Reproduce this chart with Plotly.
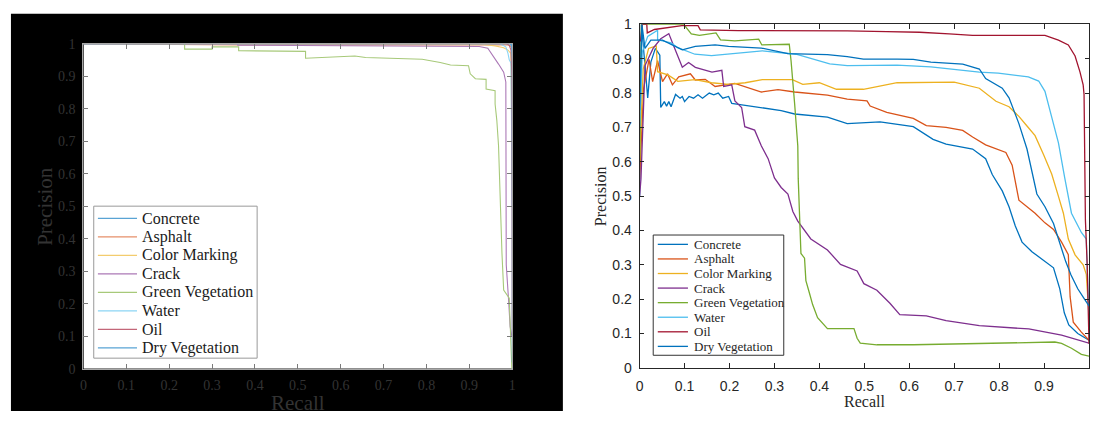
import plotly.graph_objects as go

W, H = 1093, 421

series_names = ["Concrete", "Asphalt", "Color Marking", "Crack", "Green Vegetation",
                "Water", "Oil", "Dry Vegetation"]
colors_right = ["#0072BD", "#D95319", "#EDB120", "#7E2F8E", "#77AC30", "#4DBEEE", "#A2142F", "#0072BD"]
colors_left = ["#59A3D4", "#E68F6A", "#F3CC6E", "#AB78B6", "#A7C979", "#8BD5F4", "#C36678", "#59A3D4"]
tick_vals = [0, 0.1, 0.2, 0.3, 0.4, 0.5, 0.6, 0.7, 0.8, 0.9, 1]
tick_text = ["0", "0.1", "0.2", "0.3", "0.4", "0.5", "0.6", "0.7", "0.8", "0.9", "1"]

# ---------------- left panel (recall, precision) ----------------
L_concrete_r = [0, 0.995, 0.999, 1.0]
L_concrete_p = [1.0, 1.0, 0.985, 0.64]
L_asphalt_r = [0, 0.36, 0.99, 0.998, 1.0]
L_asphalt_p = [1.0, 0.996, 0.996, 0.99, 0.6]
L_color_r = [0, 0.93, 0.96, 0.98, 0.99, 0.997, 1.0]
L_color_p = [1.0, 0.998, 0.993, 0.987, 0.98, 0.97, 0.55]
L_crack_r = [0, 0.36, 0.36, 0.898, 0.923, 0.943, 0.956, 0.968, 0.980, 0.985, 0.986, 0.989, 0.992, 0.995, 0.999]
L_crack_p = [1.0, 1.0, 0.995, 0.993, 0.991, 0.986, 0.962, 0.937, 0.912, 0.882, 0.32, 0.27, 0.20, 0.13, 0.10]
L_green_r = [0, 0.236, 0.236, 0.300, 0.300, 0.362, 0.362, 0.451, 0.518, 0.518, 0.633, 0.658, 0.790,
             0.832, 0.856, 0.898, 0.902, 0.914, 0.939, 0.939, 0.960, 0.960, 0.964, 0.968, 0.972,
             0.976, 0.980, 0.993, 0.999]
L_green_p = [1.0, 1.0, 0.983, 0.983, 0.990, 0.990, 0.978, 0.976, 0.976, 0.955, 0.962, 0.957, 0.952,
             0.942, 0.934, 0.932, 0.907, 0.892, 0.890, 0.860, 0.855, 0.814, 0.764, 0.686, 0.483,
             0.355, 0.242, 0.217, 0.0]
L_water_r = [0, 0.97, 0.985, 0.99, 0.993, 0.997, 1.0]
L_water_p = [1.0, 1.0, 0.99, 0.97, 0.95, 0.94, 0.5]
L_oil_r = [0, 0.985, 0.993, 0.997, 0.999, 0.999, 1.0]
L_oil_p = [1.0, 1.0, 0.995, 0.98, 0.9, 0.16, 0.1]
L_dry_r = [0, 0.998, 1.0, 1.0]
L_dry_p = [1.0, 1.0, 0.95, 0.02]

# ---------------- right panel (recall, precision) ----------------
R_concrete_r = [0, 0.004, 0.012, 0.018, 0.025, 0.035, 0.045, 0.047, 0.055, 0.06, 0.065, 0.07, 0.08,
                0.09, 0.095, 0.10, 0.11, 0.12, 0.13, 0.14, 0.155, 0.165, 0.175, 0.185, 0.198, 0.205,
                0.220, 0.271, 0.315, 0.345, 0.418, 0.462, 0.535, 0.609, 0.653, 0.682, 0.741, 0.770,
                0.785, 0.807, 0.822, 0.836, 0.851, 0.873, 0.902, 0.921, 0.935, 0.945, 0.955, 0.975, 1.0]
R_concrete_p = [0.5, 1.0, 0.88, 0.786, 0.89, 0.93, 0.91, 0.758, 0.775, 0.762, 0.775, 0.76, 0.796,
                0.785, 0.79, 0.775, 0.79, 0.785, 0.795, 0.785, 0.80, 0.795, 0.80, 0.785, 0.79, 0.77,
                0.767, 0.758, 0.749, 0.739, 0.730, 0.711, 0.716, 0.702, 0.665, 0.651, 0.637, 0.609,
                0.562, 0.515, 0.469, 0.413, 0.366, 0.338, 0.310, 0.291, 0.23, 0.16, 0.125, 0.10, 0.08]
R_asphalt_r = [0, 0.009, 0.021, 0.029, 0.040, 0.051, 0.062, 0.073, 0.087, 0.113, 0.124, 0.146, 0.168,
               0.212, 0.271, 0.308, 0.345, 0.418, 0.462, 0.506, 0.513, 0.550, 0.609, 0.638, 0.682,
               0.719, 0.741, 0.770, 0.815, 0.829, 0.844, 0.862, 0.880, 0.902, 0.921, 0.939, 0.954,
               0.958, 0.965, 0.983, 1.0]
R_asphalt_p = [0.55, 0.814, 0.898, 0.833, 0.894, 0.833, 0.856, 0.824, 0.847, 0.856, 0.838, 0.840, 0.819,
               0.828, 0.803, 0.810, 0.803, 0.794, 0.782, 0.777, 0.762, 0.744, 0.726, 0.705, 0.700,
               0.691, 0.672, 0.649, 0.627, 0.590, 0.488, 0.469, 0.450, 0.422, 0.403, 0.366, 0.329,
               0.207, 0.133, 0.104, 0.08]
R_color_r = [0, 0.008, 0.02, 0.037, 0.040, 0.063, 0.085, 0.123, 0.160, 0.198, 0.235, 0.273, 0.310,
             0.340, 0.363, 0.400, 0.438, 0.498, 0.573, 0.648, 0.700, 0.756, 0.793, 0.822, 0.844,
             0.862, 0.880, 0.899, 0.917, 0.932, 0.943, 0.954, 0.969, 0.987, 0.994, 1.0]
R_color_p = [0.6, 0.87, 0.93, 0.937, 0.862, 0.853, 0.834, 0.839, 0.830, 0.825, 0.830, 0.839, 0.839,
             0.839, 0.825, 0.830, 0.811, 0.811, 0.830, 0.830, 0.832, 0.814, 0.776, 0.760, 0.732,
             0.704, 0.676, 0.620, 0.564, 0.499, 0.450, 0.375, 0.329, 0.300, 0.272, 0.15]
R_crack_r = [0, 0.003, 0.012, 0.03, 0.047, 0.065, 0.075, 0.09, 0.095, 0.109, 0.124, 0.161, 0.183,
             0.187, 0.205, 0.212, 0.227, 0.234, 0.256, 0.271, 0.286, 0.300, 0.315, 0.330, 0.341,
             0.352, 0.381, 0.418, 0.447, 0.484, 0.499, 0.528, 0.557, 0.579, 0.638, 0.682, 0.756,
             0.866, 0.939, 1.0]
R_crack_p = [0.5, 0.55, 0.88, 0.93, 0.958, 0.973, 0.94, 0.89, 0.875, 0.889, 0.875, 0.861, 0.866,
             0.819, 0.824, 0.777, 0.758, 0.702, 0.692, 0.646, 0.609, 0.553, 0.525, 0.506, 0.455,
             0.427, 0.375, 0.343, 0.301, 0.282, 0.245, 0.226, 0.188, 0.155, 0.151, 0.137, 0.123,
             0.113, 0.095, 0.072]
R_green_r = [0, 0.004, 0.098, 0.115, 0.133, 0.17, 0.18, 0.212, 0.265, 0.272, 0.333, 0.337, 0.345,
             0.352, 0.353, 0.356, 0.359, 0.367, 0.370, 0.378, 0.385, 0.396, 0.418, 0.477, 0.484,
             0.491, 0.528, 0.609, 0.756, 0.924, 0.939, 0.961, 0.983, 1.0]
R_green_p = [0.6, 1.0, 1.0, 0.972, 0.968, 0.975, 0.955, 0.952, 0.957, 0.94, 0.942, 0.894, 0.768,
             0.646, 0.55, 0.40, 0.333, 0.319, 0.254, 0.217, 0.184, 0.146, 0.114, 0.114, 0.086,
             0.072, 0.067, 0.067, 0.071, 0.075, 0.071, 0.057, 0.039, 0.034]
R_water_r = [0, 0.006, 0.018, 0.040, 0.040, 0.070, 0.085, 0.123, 0.160, 0.198, 0.273, 0.348, 0.423,
             0.462, 0.573, 0.648, 0.756, 0.798, 0.865, 0.888, 0.902, 0.917, 0.932, 0.946, 0.961,
             0.983, 0.994, 0.997, 1.0]
R_water_p = [0.7, 0.92, 0.965, 0.983, 0.955, 0.946, 0.932, 0.913, 0.909, 0.913, 0.923, 0.913, 0.885,
             0.880, 0.881, 0.876, 0.861, 0.858, 0.847, 0.835, 0.805, 0.730, 0.655, 0.553, 0.450,
             0.394, 0.375, 0.25, 0.15]
R_oil_r = [0.002, 0.006, 0.016, 0.017, 0.033, 0.06, 0.094, 0.13, 0.135, 0.22, 0.30, 0.462, 0.55,
           0.623, 0.689, 0.741, 0.902, 0.932, 0.954, 0.969, 0.980, 0.987, 0.989, 0.991, 0.992,
           0.996, 1.0]
R_oil_p = [0.95, 1.0, 1.0, 0.975, 0.985, 0.99, 0.996, 0.996, 0.984, 0.982, 0.982, 0.981, 0.979,
           0.977, 0.972, 0.968, 0.968, 0.954, 0.940, 0.908, 0.861, 0.824, 0.796, 0.60, 0.431,
           0.3, 0.07]
R_dry_r = [0, 0.005, 0.012, 0.025, 0.051, 0.08, 0.095, 0.124, 0.168, 0.198, 0.271, 0.33, 0.418,
           0.462, 0.498, 0.573, 0.609, 0.648, 0.719, 0.756, 0.770, 0.807, 0.822, 0.844, 0.862,
           0.884, 0.902, 0.921, 0.935, 0.948, 0.96, 0.975, 0.99, 1.0]
R_dry_p = [0.75, 1.0, 0.93, 0.954, 0.954, 0.937, 0.926, 0.936, 0.940, 0.936, 0.931, 0.915, 0.912,
           0.906, 0.899, 0.899, 0.898, 0.890, 0.884, 0.870, 0.842, 0.814, 0.786, 0.711, 0.637,
           0.506, 0.469, 0.42, 0.36, 0.31, 0.27, 0.23, 0.20, 0.18]

left_data = [(L_concrete_r, L_concrete_p), (L_asphalt_r, L_asphalt_p), (L_color_r, L_color_p),
             (L_crack_r, L_crack_p), (L_green_r, L_green_p), (L_water_r, L_water_p),
             (L_oil_r, L_oil_p), (L_dry_r, L_dry_p)]
right_data = [(R_concrete_r, R_concrete_p), (R_asphalt_r, R_asphalt_p), (R_color_r, R_color_p),
              (R_crack_r, R_crack_p), (R_green_r, R_green_p), (R_water_r, R_water_p),
              (R_oil_r, R_oil_p), (R_dry_r, R_dry_p)]

fig = go.Figure()
for (r, p), c, n in zip(left_data, colors_left, series_names):
    fig.add_trace(go.Scatter(x=r, y=p, mode="lines", name=n, line=dict(color=c, width=1.1),
                             xaxis="x", yaxis="y", showlegend=False))
for (r, p), c, n in zip(right_data, colors_right, series_names):
    fig.add_trace(go.Scatter(x=r, y=p, mode="lines", name=n, line=dict(color=c, width=1.3),
                             xaxis="x2", yaxis="y2", showlegend=False))


def fx(px):
    return px / W


def fy(py):
    return 1 - py / H


serif = "Liberation Serif"
sans = "Liberation Sans"

axis_common = dict(range=[0, 1], tickvals=tick_vals, ticktext=tick_text, showgrid=False,
                   zeroline=False, ticks="inside", mirror="ticks", showline=True, fixedrange=True)

fig.update_layout(
    width=W, height=H, margin=dict(l=0, r=0, t=0, b=0),
    paper_bgcolor="white", plot_bgcolor="white", showlegend=False,
    xaxis=dict(domain=[fx(80), fx(512)], anchor="y", linecolor="#a8a8a8", linewidth=1,
               tickcolor="#7a7a7a", ticklen=5, tickfont=dict(family=serif, size=14, color="#333333"),
               ticklabelstandoff=3, **axis_common),
    yaxis=dict(domain=[fy(375), fy(37)], anchor="x", linecolor="#a8a8a8", linewidth=1,
               tickcolor="#7a7a7a", ticklen=5, tickfont=dict(family=serif, size=14, color="#333333"),
               ticklabelstandoff=4, **axis_common),
    xaxis2=dict(domain=[fx(640.3), 1.0], anchor="y2", linecolor="#262626", linewidth=1,
                tickcolor="#262626", ticklen=4.5, tickfont=dict(family=sans, size=14, color="#262626"),
                ticklabelstandoff=5, **axis_common),
    yaxis2=dict(domain=[fy(374), fy(17)], anchor="x2", linecolor="#262626", linewidth=1,
                tickcolor="#262626", ticklen=4.5, tickfont=dict(family=sans, size=14, color="#262626"),
                ticklabelstandoff=4, **axis_common),
)

shapes = [
    # black figure background of the left panel
    dict(type="rect", xref="paper", yref="paper", x0=fx(7), x1=fx(563), y0=fy(419), y1=fy(6),
         fillcolor="black", line=dict(width=0), layer="below"),
    # white axes background of the left panel
    dict(type="rect", xref="x", yref="y", x0=0, x1=1, y0=0, y1=1,
         fillcolor="white", line=dict(width=0), layer="below"),
]

annotations = [
    dict(text="Recall", xref="paper", yref="paper", x=fx(296), y=fy(411), showarrow=False,
         font=dict(family=serif, size=21, color="#333333"), xanchor="center", yanchor="middle"),
    dict(text="Precision", xref="paper", yref="paper", x=fx(41), y=fy(206), showarrow=False,
         textangle=-90, font=dict(family=serif, size=21, color="#333333"),
         xanchor="center", yanchor="middle"),
    dict(text="Recall", xref="paper", yref="paper", x=fx(867), y=fy(409), showarrow=False,
         font=dict(family=serif, size=16, color="#262626"), xanchor="center", yanchor="middle"),
    dict(text="Precision", xref="paper", yref="paper", x=fx(601), y=fy(196), showarrow=False,
         textangle=-90, font=dict(family=serif, size=16, color="#262626"),
         xanchor="center", yanchor="middle"),
]

# legend boxes (drawn manually to match the compact MATLAB legend)
legend_specs = [
    dict(box=(90.4, 255, 206, 364), line_x=(94.6, 134), text_x=137.5, y0=218.7, dy=19.23,
         size=16, colors=colors_left, border="#9a9a9a", tcolor="#1a1a1a", lw=1.1),
    dict(box=(654, 785.5, 236, 361), line_x=(658.6, 689), text_x=692.7, y0=245.7, dy=15.15,
         size=13, colors=colors_right, border="#333333", tcolor="#262626", lw=1.3),
]
for spec in legend_specs:
    bx0, bx1, by0, by1 = spec["box"]
    shapes.append(dict(type="rect", xref="paper", yref="paper", x0=fx(bx0), x1=fx(bx1),
                       y0=fy(by1), y1=fy(by0), fillcolor="white",
                       line=dict(color=spec["border"], width=1), layer="above"))
    for i, (n, c) in enumerate(zip(series_names, spec["colors"])):
        yy = spec["y0"] + i * spec["dy"]
        shapes.append(dict(type="line", xref="paper", yref="paper", x0=fx(spec["line_x"][0]),
                           x1=fx(spec["line_x"][1]), y0=fy(yy), y1=fy(yy),
                           line=dict(color=c, width=spec["lw"]), layer="above"))
        annotations.append(dict(text=n, xref="paper", yref="paper", x=fx(spec["text_x"]), y=fy(yy),
                                showarrow=False, xanchor="left", yanchor="middle",
                                font=dict(family=serif, size=spec["size"], color=spec["tcolor"])))

fig.update_layout(shapes=shapes, annotations=annotations)
fig.write_html("out.html", config={"displayModeBar": False},
               post_script="document.body.style.margin='0';document.body.style.overflow='hidden';")
